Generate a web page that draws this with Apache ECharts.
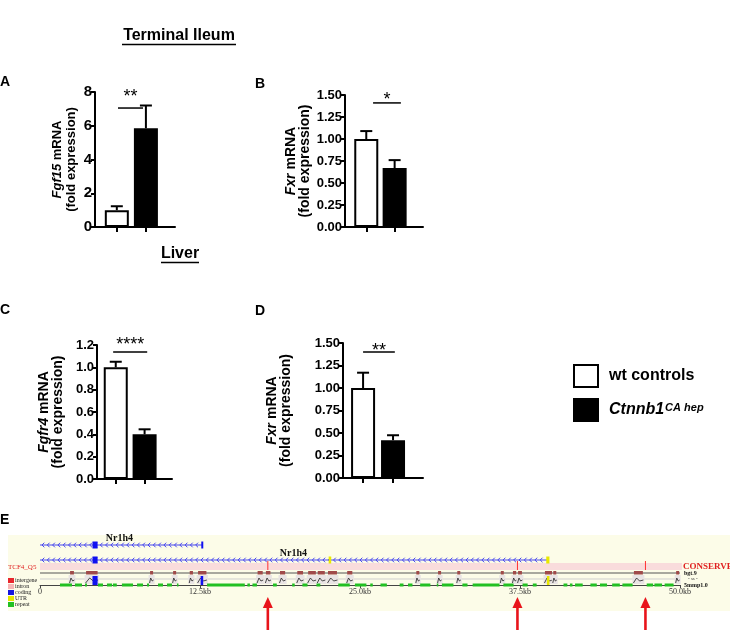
<!DOCTYPE html>
<html><head><meta charset="utf-8">
<script src="https://cdn.jsdelivr.net/npm/echarts@6/dist/echarts.min.js"></script>
<style>html,body{margin:0;padding:0;background:#fff}#c{width:730px;height:630px}</style>
</head><body><div id="c"></div><script>
// ---------- data ----------
const groupNames = ['wt controls', 'Ctnnb1 CA hep'];
const barX = [1, 2];
const geneLabels = ['Fgf15', 'Fxr', 'Fgfr4', 'Fxr'];
const fgf15Mean = [1.0, 5.85];
const fgf15Upper = [1.23, 7.2];
const fxrIleumMean = [1.0, 0.67];
const fxrIleumUpper = [1.09, 0.76];
const fgfr4Mean = [1.0, 0.40];
const fgfr4Upper = [1.05, 0.445];
const fxrLiverMean = [1.0, 0.42];
const fxrLiverUpper = [1.17, 0.475];
const sigLabels = ['**', '*', '****', '**'];
const sigLineLevel = [7.05, 1.41, 1.137, 1.40];
const sigStarLevel = [8.0, 1.5, 1.245, 1.47];
const yMax = [8, 1.5, 1.2, 1.5];
const yStep = [2, 0.25, 0.2, 0.25];
const yDecimals = [0, 2, 1, 2];

// panel E (kb)
const kbTickLabels = ['0', '12.5kb', '25.0kb', '37.5kb', '50.0kb'];
const geneTrackNames = ['Nr1h4', 'Nr1h4'];
const geneStartKb = [0, 0];
const geneEndKb = [12.7, 39.7];
const geneLabelKb = [6.2, 19.8];
const codingExonKb = [[4.1, 4.5, 0], [12.6, 12.75, 0], [4.1, 4.5, 1]];
const utrExonKb = [[22.55, 22.75, 1], [39.55, 39.8, 1]];
const tcf4SitesKb = [17.8, 37.3, 47.3];
const conservedKb = [[2.35, 2.65], [3.6, 4.5], [8.6, 8.8], [10.4, 10.6], [11.7, 11.95], [12.35, 13.0],
  [17.0, 17.4], [17.65, 18.0], [18.75, 19.15], [20.1, 20.55], [20.95, 21.55], [21.7, 22.25], [22.5, 23.2],
  [24.0, 24.4], [29.4, 29.6], [31.1, 31.3], [32.6, 32.75], [36.0, 36.2], [36.95, 37.2], [37.35, 37.65],
  [39.45, 40.0], [40.1, 40.25], [46.4, 47.1], [49.7, 49.85]];
const conservedCodingKb = [[4.1, 4.5], [12.55, 12.75]];
const conservedUtrKb = [[39.6, 39.8]];
const repeatKb = [[1.56, 2.5], [2.73, 3.28], [3.52, 3.67], [4.53, 4.92], [5.23, 5.63], [5.7, 6.0], [6.4, 7.27],
  [7.58, 8.05], [8.36, 8.52], [9.22, 9.61], [9.92, 10.31], [10.7, 10.8], [13.05, 16.0], [16.2, 16.4],
  [16.6, 16.95], [18.2, 18.5], [19.7, 19.9], [20.5, 20.9], [21.6, 21.9], [23.3, 24.2], [24.6, 25.5],
  [25.8, 26.0], [26.6, 27.1], [28.1, 28.4], [28.75, 29.1], [29.7, 30.5], [31.0, 31.1], [31.4, 32.3],
  [33.0, 33.4], [33.8, 35.9], [36.2, 37.0], [37.7, 38.1], [38.5, 38.8], [40.9, 41.2], [41.4, 41.6],
  [41.8, 42.4], [43.0, 43.5], [43.75, 44.3], [44.7, 45.3], [45.5, 46.3], [47.4, 47.9], [48.0, 48.6], [48.8, 49.5]];
const trackLegendNames = ['intergene', 'intron', 'coding', 'UTR', 'repeat'];

// ---------- layout ----------
const FONT = 'Liberation Sans, Arial, sans-serif';
const SERIF = 'Liberation Serif, Times New Roman, serif';
const panels = [
  {left: 95, top: 92, width: 80, height: 135, xMin: 0.25, xMax: 3, tickFont: 15, nameFont: 13, nameGap: 17, sigX: [1.04, 1.9]},
  {left: 345, top: 95, width: 78, height: 132, xMin: 0.25, xMax: 3, tickFont: 13, nameFont: 14, nameGap: 33, sigX: [1.24, 2.22]},
  {left: 97, top: 345, width: 75, height: 134, xMin: 0.35, xMax: 2.95, tickFont: 13, nameFont: 14, nameGap: 32, sigX: [0.91, 2.09]},
  {left: 343, top: 343, width: 80, height: 135, xMin: 0.33, xMax: 3, tickFont: 13, nameFont: 14, nameGap: 50, sigX: [1.0, 2.06]}
];
const means = [fgf15Mean, fxrIleumMean, fgfr4Mean, fxrLiverMean];
const uppers = [fgf15Upper, fxrIleumUpper, fgfr4Upper, fxrLiverUpper];
const geneRows = [40, 25];
const E = 4;

const grid = panels.map(p => ({left: p.left, top: p.top, width: p.width, height: p.height}));
grid.push({left: 40, top: 537, width: 640, height: 48});

const xAxis = panels.map((p, i) => ({
  gridIndex: i, type: 'value', min: p.xMin, max: p.xMax,
  axisLine: {show: true, onZero: false, lineStyle: {color: '#000', width: 2}},
  axisTick: {show: true, customValues: barX, length: 5, lineStyle: {color: '#000', width: 2}},
  axisLabel: {show: false}, splitLine: {show: false}
}));
xAxis.push({
  gridIndex: E, type: 'value', min: 0, max: 50, interval: 12.5,
  axisLine: {show: true, onZero: false, lineStyle: {color: '#444', width: 1}},
  axisTick: {show: true, length: 3, lineStyle: {color: '#444', width: 1}},
  axisLabel: {color: '#333', fontSize: 8, fontFamily: SERIF, margin: 3,
    formatter: (v) => kbTickLabels[Math.round(v / 12.5)]},
  splitLine: {show: false}
});

const yAxis = panels.map((p, i) => ({
  gridIndex: i, type: 'value', min: 0, max: yMax[i], interval: yStep[i],
  axisLine: {show: true, lineStyle: {color: '#000', width: 2}},
  axisTick: {show: true, length: 4, lineStyle: {color: '#000', width: 2}},
  axisLabel: {color: '#000', fontWeight: 'bold', fontSize: p.tickFont, fontFamily: FONT, margin: 3,
    formatter: (v) => v.toFixed(yDecimals[i])},
  splitLine: {show: false},
  name: '{i|' + geneLabels[i] + '} {n|mRNA}\n{n|(fold expression)}',
  nameLocation: 'middle', nameRotate: 90, nameGap: p.nameGap,
  nameTextStyle: {
    color: '#000', fontSize: p.nameFont, fontWeight: 'bold', fontFamily: FONT, lineHeight: 14,
    rich: {
      i: {fontStyle: 'italic', fontWeight: 'bold', fontSize: p.nameFont, fontFamily: FONT, lineHeight: 14, color: '#000'},
      n: {fontWeight: 'bold', fontSize: p.nameFont, fontFamily: FONT, lineHeight: 14, color: '#000'}
    }
  }
}));
yAxis.push({gridIndex: E, type: 'value', min: 0, max: 48, show: false});

const series = [];
panels.forEach((p, i) => {
  series.push({
    name: groupNames[0], type: 'bar', xAxisIndex: i, yAxisIndex: i, barWidth: 24, barGap: '-100%',
    data: [[barX[0], means[i][0]]],
    itemStyle: {color: '#fff', borderColor: '#000', borderWidth: 2}, silent: true
  });
  series.push({
    name: groupNames[1], type: 'bar', xAxisIndex: i, yAxisIndex: i, barWidth: 24, barGap: '-100%',
    data: [[barX[1], means[i][1]]],
    itemStyle: {color: '#000', borderColor: '#000', borderWidth: 2}, silent: true
  });
  series.push({
    type: 'custom', xAxisIndex: i, yAxisIndex: i, z: 3, silent: true,
    data: barX.map((x, k) => [x, means[i][k], uppers[i][k]]),
    renderItem: (params, api) => {
      const a = api.coord([api.value(0), api.value(1)]);
      const b = api.coord([api.value(0), api.value(2)]);
      return {type: 'group', children: [
        {type: 'line', shape: {x1: a[0], y1: a[1], x2: b[0], y2: b[1]}, style: {stroke: '#000', lineWidth: 2}},
        {type: 'line', shape: {x1: b[0] - 6, y1: b[1], x2: b[0] + 6, y2: b[1]}, style: {stroke: '#000', lineWidth: 2}}
      ]};
    }
  });
  series.push({
    type: 'custom', xAxisIndex: i, yAxisIndex: i, z: 3, silent: true,
    data: [[p.sigX[0], sigLineLevel[i], p.sigX[1], sigStarLevel[i]]],
    renderItem: (params, api) => {
      const a = api.coord([api.value(0), api.value(1)]);
      const b = api.coord([api.value(2), api.value(1)]);
      const s = api.coord([(api.value(0) + api.value(2)) / 2, api.value(3)]);
      return {type: 'group', children: [
        {type: 'line', shape: {x1: a[0], y1: a[1], x2: b[0], y2: b[1]}, style: {stroke: '#000', lineWidth: 1.5}},
        {type: 'text', x: s[0], y: s[1] + 5, style: {text: sigLabels[i], fontSize: 18, fontFamily: FONT,
          fill: '#000', align: 'center', verticalAlign: 'middle'}}
      ]};
    }
  });
});

// ---------- panel E series ----------
const blue = '#4848ee';
series.push({ // background tracks
  type: 'custom', xAxisIndex: E, yAxisIndex: E, z: 1, silent: true,
  data: [[0, 50.15]],
  renderItem: (params, api) => {
    const a = api.coord([api.value(0), 22]);
    const b = api.coord([api.value(1), 15]);
    const c1 = api.coord([0, 12]);
    const c2 = api.coord([50, 12]);
    const d1 = api.coord([0, 6]);
    const d2 = api.coord([50, 6]);
    return {type: 'group', children: [
      {type: 'rect', shape: {x: a[0], y: a[1], width: b[0] - a[0], height: b[1] - a[1]}, style: {fill: '#f9dcdc'}},
      {type: 'line', shape: {x1: d1[0], y1: d1[1], x2: d2[0], y2: d2[1]}, style: {stroke: '#cfcfcf', lineWidth: 1}},
      {type: 'line', shape: {x1: c1[0], y1: c1[1], x2: c2[0], y2: c2[1]}, style: {stroke: '#555', lineWidth: 1}}
    ]};
  }
});
series.push({ // gene lines with chevrons
  type: 'custom', xAxisIndex: E, yAxisIndex: E, z: 2, silent: true,
  data: geneStartKb.map((s, k) => [s, geneEndKb[k], k]),
  renderItem: (params, api) => {
    const row = geneRows[api.value(2)];
    const p1 = api.coord([api.value(0), row]);
    const p2 = api.coord([api.value(1), row]);
    const ch = [{type: 'line', shape: {x1: p1[0], y1: p1[1], x2: p2[0], y2: p2[1]}, style: {stroke: blue, lineWidth: 1}}];
    for (let x = p1[0] + 2; x < p2[0] - 3; x += 5.3) {
      ch.push({type: 'polyline', shape: {points: [[x + 2.3, p1[1] - 2.3], [x, p1[1]], [x + 2.3, p1[1] + 2.3]]},
        style: {stroke: blue, lineWidth: 1, fill: null}});
    }
    const lp = api.coord([geneLabelKb[api.value(2)], row]);
    ch.push({type: 'text', x: lp[0], y: lp[1] - 7, style: {text: geneTrackNames[api.value(2)], fontSize: 10,
      fontWeight: 'bold', fontFamily: SERIF, fill: '#111', align: 'center', verticalAlign: 'middle'}});
    return {type: 'group', children: ch};
  }
});
function exonRender(color) {
  return (params, api) => {
    const row = geneRows[api.value(2)];
    const a = api.coord([api.value(0), row]);
    const b = api.coord([api.value(1), row]);
    return {type: 'rect', shape: {x: a[0], y: a[1] - 3.5, width: Math.max(2, b[0] - a[0]), height: 7}, style: {fill: color}};
  };
}
series.push({type: 'custom', xAxisIndex: E, yAxisIndex: E, z: 3, silent: true, data: codingExonKb, renderItem: exonRender('#1010f0')});
series.push({type: 'custom', xAxisIndex: E, yAxisIndex: E, z: 3, silent: true, data: utrExonKb, renderItem: exonRender('#e8e800')});
series.push({ // TCF4 sites
  type: 'custom', xAxisIndex: E, yAxisIndex: E, z: 3, silent: true,
  data: tcf4SitesKb.map(v => [v]),
  renderItem: (params, api) => {
    const a = api.coord([api.value(0), 24]);
    const b = api.coord([api.value(0), 15]);
    return {type: 'line', shape: {x1: a[0], y1: a[1], x2: b[0], y2: b[1]}, style: {stroke: '#ff3030', lineWidth: 1}};
  }
});
series.push({ // conserved elements + peaks
  type: 'custom', xAxisIndex: E, yAxisIndex: E, z: 3, silent: true,
  data: conservedKb,
  renderItem: (params, api) => {
    const a = api.coord([api.value(0), 14]);
    const b = api.coord([api.value(1), 10.5]);
    const g1 = api.coord([api.value(0), 10]);
    const g2 = api.coord([api.value(1), 1]);
    const w = Math.max(3, b[0] - a[0]);
    const x0 = g1[0] - 1.5, x1 = g1[0] + w + 1.5;
    return {type: 'group', children: [
      {type: 'rect', shape: {x: x0, y: g1[1], width: x1 - x0, height: g2[1] - g1[1]}, style: {fill: '#e9e4e4'}},
      {type: 'polyline', shape: {points: [[x0 + 1, g2[1] - 1], [x0 + (x1 - x0) * 0.35, g1[1] + 3], [x0 + (x1 - x0) * 0.6, g2[1] - 3], [x1 - 1, g1[1] + 5]]},
        style: {stroke: '#222', lineWidth: 0.8, fill: null}},
      {type: 'rect', shape: {x: a[0], y: a[1], width: w, height: b[1] - a[1]}, style: {fill: '#a04a4a'}}
    ]};
  }
});
function blockRender(color) {
  return (params, api) => {
    const a = api.coord([api.value(0), 9]);
    const b = api.coord([api.value(1), 0]);
    return {type: 'rect', shape: {x: a[0], y: a[1], width: Math.max(2, b[0] - a[0]), height: b[1] - a[1]}, style: {fill: color}};
  };
}
series.push({type: 'custom', xAxisIndex: E, yAxisIndex: E, z: 4, silent: true, data: conservedCodingKb, renderItem: blockRender('#1010f0')});
series.push({type: 'custom', xAxisIndex: E, yAxisIndex: E, z: 4, silent: true, data: conservedUtrKb, renderItem: blockRender('#e8e800')});
series.push({ // repeats
  type: 'custom', xAxisIndex: E, yAxisIndex: E, z: 4, silent: true,
  data: repeatKb,
  renderItem: (params, api) => {
    const a = api.coord([api.value(0), 0]);
    const b = api.coord([api.value(1), 0]);
    return {type: 'rect', shape: {x: a[0], y: a[1] - 1.5, width: Math.max(1.5, b[0] - a[0]), height: 3}, style: {fill: '#22c022'}};
  }
});
series.push({ // red arrows
  type: 'custom', xAxisIndex: E, yAxisIndex: E, z: 5, silent: true,
  data: tcf4SitesKb.map(v => [v]),
  renderItem: (params, api) => {
    const p = api.coord([api.value(0), 0]);
    const x = p[0], top = p[1] + 12, bottom = api.getHeight();
    return {type: 'group', children: [
      {type: 'polygon', shape: {points: [[x, top], [x - 5, top + 11], [x + 5, top + 11]]}, style: {fill: '#e8141a'}},
      {type: 'rect', shape: {x: x - 1.3, y: top + 10, width: 2.6, height: bottom - top - 10}, style: {fill: '#e8141a'}}
    ]};
  }
});

// ---------- graphic (titles, letters, decorations) ----------
const legendColors = ['#e8262c', '#f7b5b5', '#1515e0', '#e5e500', '#22c022'];
const graphic = [
  {type: 'rect', z: -10, shape: {x: 8, y: 535, width: 722, height: 76}, style: {fill: '#fcfce8'}},
  {type: 'text', x: 179, y: 36, style: {text: 'Terminal Ileum', fontSize: 16, fontWeight: 'bold', fontFamily: FONT, fill: '#000', align: 'center', verticalAlign: 'middle'}},
  {type: 'line', shape: {x1: 122, y1: 44.5, x2: 236, y2: 44.5}, style: {stroke: '#000', lineWidth: 1.5}},
  {type: 'text', x: 180, y: 254, style: {text: 'Liver', fontSize: 16, fontWeight: 'bold', fontFamily: FONT, fill: '#000', align: 'center', verticalAlign: 'middle'}},
  {type: 'line', shape: {x1: 161, y1: 262.5, x2: 199, y2: 262.5}, style: {stroke: '#000', lineWidth: 1.5}},
  {type: 'text', x: 0, y: 82, style: {text: 'A', fontSize: 14, fontWeight: 'bold', fontFamily: FONT, fill: '#000', verticalAlign: 'middle'}},
  {type: 'text', x: 255, y: 84, style: {text: 'B', fontSize: 14, fontWeight: 'bold', fontFamily: FONT, fill: '#000', verticalAlign: 'middle'}},
  {type: 'text', x: 0, y: 310, style: {text: 'C', fontSize: 14, fontWeight: 'bold', fontFamily: FONT, fill: '#000', verticalAlign: 'middle'}},
  {type: 'text', x: 255, y: 311, style: {text: 'D', fontSize: 14, fontWeight: 'bold', fontFamily: FONT, fill: '#000', verticalAlign: 'middle'}},
  {type: 'text', x: 0, y: 520, style: {text: 'E', fontSize: 14, fontWeight: 'bold', fontFamily: FONT, fill: '#000', verticalAlign: 'middle'}},
  {type: 'text', x: 8, y: 567, style: {text: 'TCF4_Q5', fontSize: 7, fontFamily: SERIF, fill: '#e02020', verticalAlign: 'middle'}},
  {type: 'text', x: 683, y: 567, style: {text: 'CONSERVED', fontSize: 9, fontWeight: 'bold', fontFamily: SERIF, fill: '#e02020', verticalAlign: 'middle'}},
  {type: 'text', x: 684, y: 573, style: {text: 'bgt.9', fontSize: 6, fontWeight: 'bold', fontFamily: SERIF, fill: '#111', verticalAlign: 'middle'}},
  {type: 'text', x: 688, y: 579, style: {text: '- ss -', fontSize: 5, fontFamily: SERIF, fill: '#444', verticalAlign: 'middle'}},
  {type: 'text', x: 684, y: 585, style: {text: '5mmp1.0', fontSize: 6, fontWeight: 'bold', fontFamily: SERIF, fill: '#111', verticalAlign: 'middle'}}
];
trackLegendNames.forEach((n, k) => {
  graphic.push({type: 'rect', shape: {x: 8, y: 578 + k * 6, width: 6, height: 5}, style: {fill: legendColors[k]}});
  graphic.push({type: 'text', x: 15, y: 580.5 + k * 6, style: {text: n, fontSize: 6, fontFamily: SERIF, fill: '#222', verticalAlign: 'middle'}});
});

const option = {
  animation: false,
  backgroundColor: '#fff',
  grid, xAxis, yAxis, series, graphic,
  legend: {
    orient: 'vertical', left: 573, top: 364, padding: 0, itemWidth: 24, itemHeight: 22, itemGap: 10,
    selectedMode: false, icon: 'rect',
    data: [
      {name: groupNames[0], itemStyle: {color: '#fff', borderColor: '#000', borderWidth: 2}},
      {name: groupNames[1], itemStyle: {color: '#000', borderColor: '#000', borderWidth: 2}}
    ],
    formatter: (name) => name === groupNames[0] ? '{a|wt controls}' : '{c|Ctnnb1}{s|CA hep}',
    textStyle: {
      rich: {
        a: {fontSize: 16, fontWeight: 'bold', fontFamily: FONT, color: '#000', padding: [0, 0, 0, 6]},
        c: {fontSize: 16, fontWeight: 'bold', fontStyle: 'italic', fontFamily: FONT, color: '#000', padding: [0, 0, 0, 6]},
        s: {fontSize: 11, fontWeight: 'bold', fontStyle: 'italic', fontFamily: FONT, color: '#000', verticalAlign: 'top', padding: [0, 0, 0, 1]}
      }
    }
  }
};
const chart = echarts.init(document.getElementById('c'), null, {renderer: 'canvas'});
chart.setOption(option);
</script></body></html>
